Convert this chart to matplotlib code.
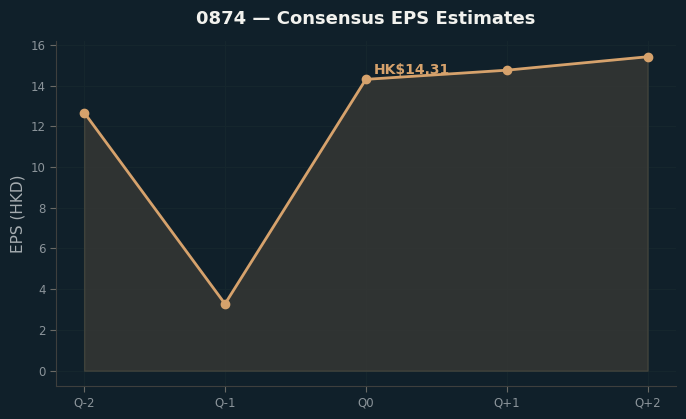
import matplotlib
matplotlib.use("Agg")
import matplotlib.pyplot as plt

categories = ["Q-2", "Q-1", "Q0", "Q+1", "Q+2"]
eps = [12.68, 3.28, 14.31, 14.76, 15.42]
title = "0874 — Consensus EPS Estimates"
ylabel = "EPS (HKD)"
annot_label = "HK$14.31"

bg = "#10202a"
line_c = "#d6a26c"

fig = plt.figure(figsize=(6.86, 4.19), dpi=100, facecolor=bg)
ax = fig.add_axes([0.0816, 0.078, 0.9034, 0.824])
ax.set_facecolor(bg)

x = list(range(len(categories)))
ax.fill_between(x, eps, 0, color="#3a3a36", alpha=0.75, edgecolor="#4a4a40", linewidth=1)
ax.plot(x, eps, color=line_c, linewidth=2, marker="o", markersize=6, zorder=3)

ax.annotate(annot_label, (2, eps[2]), xytext=(6, 4), textcoords="offset points",
            color=line_c, fontsize=10, fontweight="bold")

ax.set_xticks(x)
ax.set_xticklabels(categories)
ax.set_yticks(range(0, 17, 2))
ax.grid(True, color="#15262d", linewidth=0.8)
ax.set_axisbelow(True)
for s in ["top", "right"]:
    ax.spines[s].set_visible(False)
for s in ["left", "bottom"]:
    ax.spines[s].set_color("#3e3f3d")
ax.tick_params(colors="#8b949a", labelsize=8.5, length=4)
ax.tick_params(color="#6a6a66")
ax.set_ylabel(ylabel, color="#a6adb1", fontsize=11)
ax.set_title(title, color="#f2f2ee", fontsize=13, fontweight="bold", pad=12)

fig.savefig("out.png", dpi=100, facecolor=bg)
